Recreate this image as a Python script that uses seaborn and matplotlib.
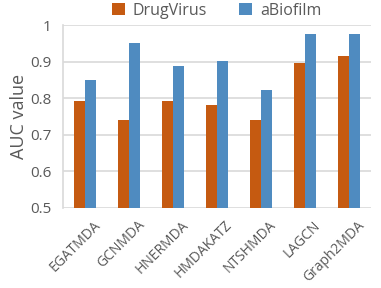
import pandas as pd
import matplotlib
matplotlib.use("Agg")
import matplotlib.pyplot as plt
import matplotlib.transforms as mtransforms
import seaborn as sns

# chart data
methods = ["EGATMDA", "GCNMDA", "HNERMDA", "HMDAKATZ", "NTSHMDA", "LAGCN", "Graph2MDA"]
drugvirus = [0.791, 0.741, 0.792, 0.782, 0.741, 0.896, 0.915]
abiofilm = [0.851, 0.952, 0.887, 0.903, 0.823, 0.975, 0.976]
series_names = ["DrugVirus", "aBiofilm"]
yticks = [0.5, 0.6, 0.7, 0.8, 0.9, 1.0]
ytick_labels = ["0.5", "0.6", "0.7", "0.8", "0.9", "1"]

df = pd.DataFrame({
    "method": methods * 2,
    "dataset": [series_names[0]] * len(methods) + [series_names[1]] * len(methods),
    "auc": drugvirus + abiofilm,
})

sns.set_style("white")
plt.rcParams["font.family"] = ["Open Sans", "DejaVu Sans"]
text_color = "#595959"

fig = plt.figure(figsize=(3.81, 2.88), dpi=100)
ax = fig.add_axes([0.165, 0.278, 0.808, 0.635])

sns.barplot(data=df, x="method", y="auc", hue="dataset",
            palette=["#C55A11", "#4F8BC0"], saturation=1, width=0.5, gap=0,
            linewidth=0, ax=ax, zorder=3)

ax.set_ylim(0.5, 1.0)
ax.set_xlim(-0.5, len(methods) - 0.5)
ax.set_yticks(yticks)
ax.set_yticklabels(ytick_labels)
ax.yaxis.grid(True, color="#D9D9D9", linewidth=1.2, zorder=0)
ax.set_axisbelow(True)

for side in ["top", "right", "bottom"]:
    ax.spines[side].set_visible(False)
ax.spines["left"].set_color("#D9D9D9")
ax.spines["left"].set_linewidth(1.2)

ax.tick_params(axis="y", labelsize=11, colors=text_color, length=0, pad=8)
ax.tick_params(axis="x", labelsize=10, colors=text_color, length=0, pad=7)
shift = mtransforms.ScaledTranslation(8 / 100, 0, fig.dpi_scale_trans)
for lbl in ax.get_xticklabels():
    lbl.set_rotation(45)
    lbl.set_ha("right")
    lbl.set_rotation_mode("anchor")
    lbl.set_transform(lbl.get_transform() + shift)

ax.set_xlabel("")
ax.set_ylabel("AUC value", fontsize=13, color=text_color)
ax.yaxis.set_label_coords(-0.112, 0.5)

ax.legend(loc="lower center", bbox_to_anchor=(0.5, 1.0), ncol=2, frameon=False,
          fontsize=11.5, labelcolor=text_color, handlelength=0.8, handleheight=0.8,
          columnspacing=2.0, handletextpad=0.5, borderaxespad=0.0)

fig.savefig("out.png", dpi=100)
